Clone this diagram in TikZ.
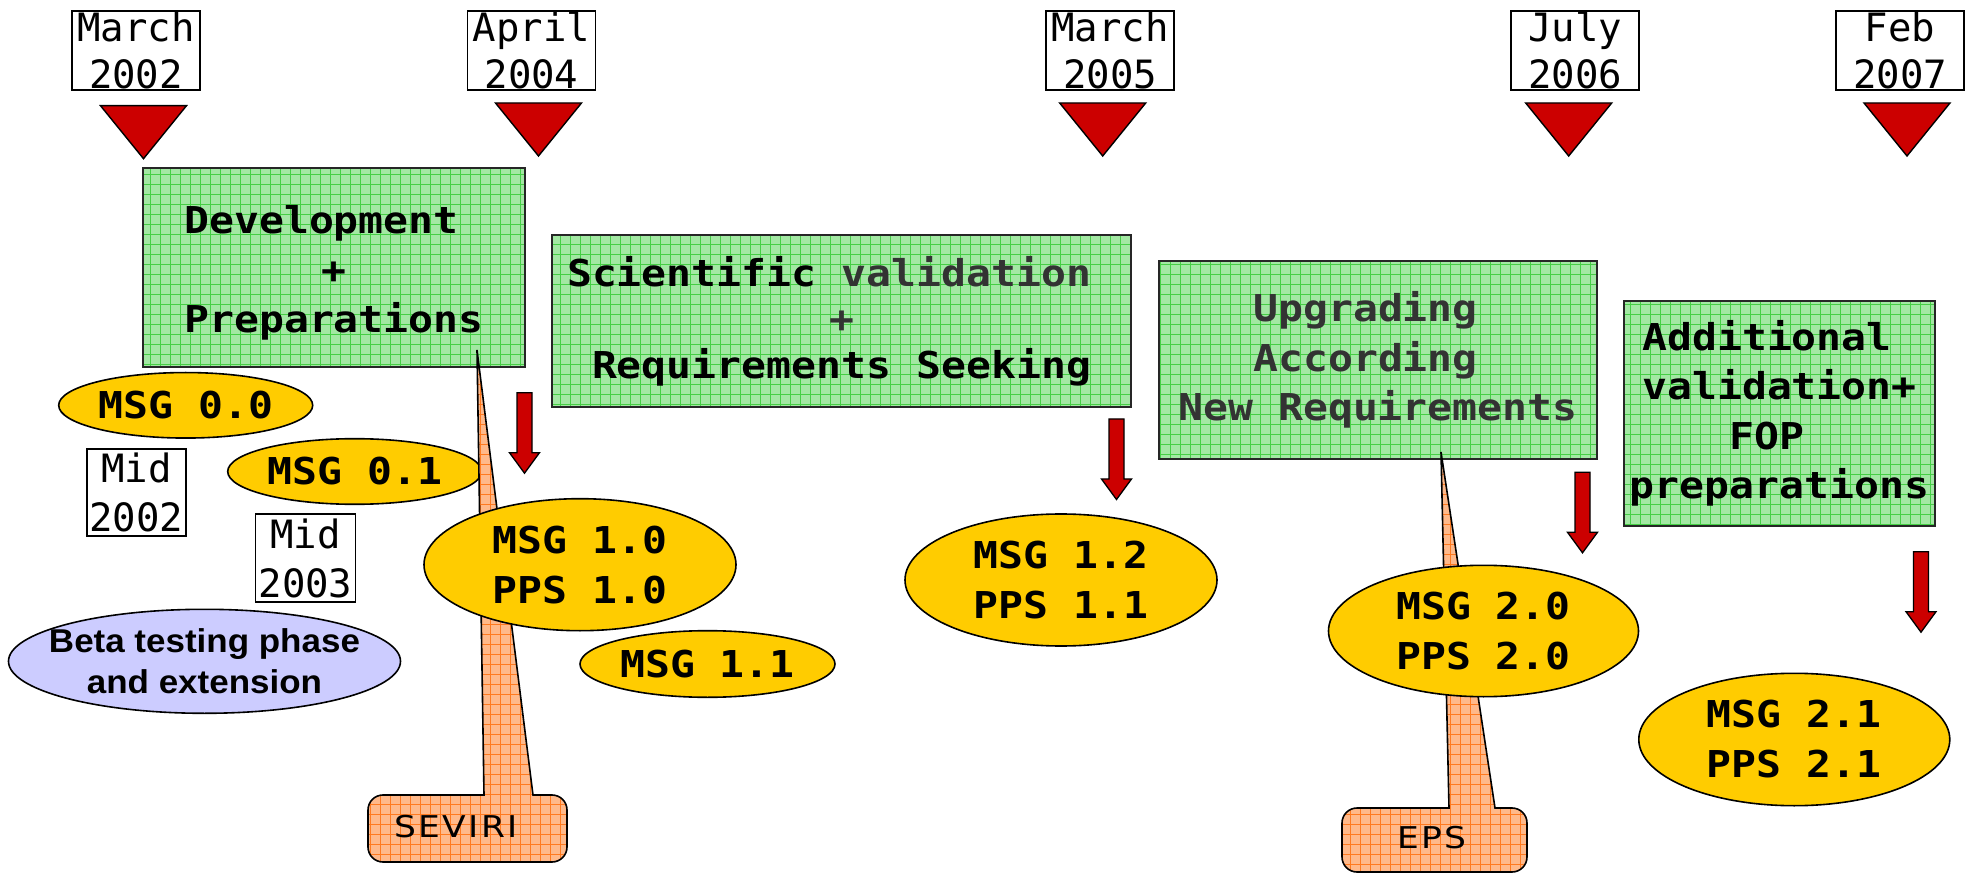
\documentclass[tikz,border=0pt]{standalone}
\usepackage{fontspec}
\usetikzlibrary{shapes.geometric, patterns.meta}
\newfontfamily\monofont{DejaVu Sans Mono}
\newfontfamily\bodyfont[FakeStretch=1.12]{DejaVu Sans Mono}
\newfontfamily\betafont[FakeStretch=1.06]{Liberation Sans}
\newfontfamily\handfont[LetterSpace=8, FakeStretch=1.15]{DejaVu Sans}
\definecolor{boxgreen}{HTML}{A3E8A3}
\definecolor{gridgreen}{HTML}{45CF45}
\definecolor{calloutfill}{HTML}{FFB98A}
\definecolor{gridorange}{HTML}{FF7A1F}
\definecolor{versiongold}{HTML}{FFCC00}
\definecolor{betablue}{HTML}{CCCCFF}
\definecolor{markred}{HTML}{CC0000}
\definecolor{textgray}{HTML}{333333}
\newcommand{\tsp}{\hphantom{x}}

\begin{document}
\begin{tikzpicture}[x=1pt, y=1pt,
  datebox/.style={draw, line width=1.5pt, fill=white, inner sep=0pt, align=center,
    font=\monofont\fontsize{39}{47}\selectfont},
  middate/.style={datebox, font=\monofont\fontsize{39}{49}\selectfont},
  phasebox/.style={draw=black!85, line width=2pt, inner sep=0pt, align=center,
    preaction={fill=boxgreen}, pattern={Hatch[angle=0, distance=10pt, line width=0.55pt]},
    pattern color=gridgreen, font=\bodyfont\bfseries\fontsize{37}{49.5}\selectfont},
  version/.style={ellipse, draw, line width=1.6pt, fill=versiongold, inner sep=0pt,
    align=center, font=\bodyfont\bfseries\fontsize{37}{50}\selectfont},
  callout/.style={draw, line width=1.6pt, preaction={fill=calloutfill},
    pattern={Hatch[angle=0, distance=10pt, line width=0.55pt]}, pattern color=gridorange},
  handlabel/.style={inner sep=0pt, font=\handfont\fontsize{30}{32}\selectfont},
  pics/marker/.style={code={
    \draw[fill=markred, line width=1.4pt] (-43,0) -- (43,0) -- (0,-53) -- cycle;}},
  pics/downarrow/.style={code={
    \draw[fill=markred, line width=1.3pt] (-7.5,0) -- (7.5,0) -- (7.5,-60) -- (15,-60)
      -- (0,-80.5) -- (-15,-60) -- (-7.5,-60) -- cycle;}}
]
\useasboundingbox (0,0) rectangle (1966,-874);

% Zeitachse: Daten + Dreiecke
\node[datebox, minimum width=128, minimum height=79] (d2002) at (136,-50.5) {March\\2002};
\node[datebox, minimum width=128, minimum height=79] (d2004) at (531.5,-50.5) {April\\2004};
\node[datebox, minimum width=128, minimum height=79] (d2005) at (1110,-50.5) {March\\2005};
\node[datebox, minimum width=128, minimum height=79] (d2006) at (1575,-50.5) {July\\2006};
\node[datebox, minimum width=128, minimum height=79] (d2007) at (1900,-50.5) {Feb\\2007};
\pic at (143.5,-105.7) {marker};
\pic at (538.5,-103) {marker};
\pic at (1102.7,-103) {marker};
\pic at (1568.7,-103) {marker};
\pic at (1907,-103) {marker};

% Phasen
\node[phasebox, minimum width=382, minimum height=199] (dev) at (334,-267.5)
  {\rule{0pt}{39pt}Development\tsp\\+\\Preparations};
\node[phasebox, minimum width=579, minimum height=172,
  font=\bodyfont\bfseries\fontsize{37}{46}\selectfont] (sci) at (841.5,-321)
  {Scientific {\color{textgray}validation}\tsp\\{\color{textgray}+}\\Requirements Seeking};
\node[phasebox, text=textgray, minimum width=438, minimum height=198] (upg) at (1378,-360)
  {Upgrading\tsp\\According\tsp\\New Requirements};
\node[phasebox, minimum width=311, minimum height=225] (add) at (1779.5,-413.5)
  {Additional\tsp\\validation+\\FOP\tsp\\preparations};

% Fruehe Versionen
\node[version, minimum width=254, minimum height=65.5] (v00) at (185.7,-405.3) {MSG 0.0};
\node[middate, minimum width=99, minimum height=87] (mid02) at (136.3,-492.3) {Mid\\2002};
\node[version, minimum width=254, minimum height=65.6] (v01) at (354.7,-471.5) {MSG 0.1};
\node[middate, minimum width=100, minimum height=88] (mid03) at (305.5,-558) {Mid\\2003};
\node[ellipse, draw, line width=1.6pt, fill=betablue, inner sep=0pt,
  minimum width=392, minimum height=104,
  label={[align=center, font=\betafont\bfseries\fontsize{33}{41}\selectfont]center:Beta testing phase\\and extension}]
  (beta) at (204.5,-661.3) {};

% SEVIRI
\draw[callout] (484,-795) -- (477,-350) -- (533,-795) -- (552,-795)
  arc[start angle=90, end angle=0, radius=15] -- (567,-847)
  arc[start angle=0, end angle=-90, radius=15] -- (383,-862)
  arc[start angle=270, end angle=180, radius=15] -- (368,-810)
  arc[start angle=180, end angle=90, radius=15] -- cycle;
\node[handlabel] (seviri) at (456,-827) {SEVIRI};

% EPS
\draw[callout] (1449,-808) -- (1441,-452) -- (1495,-808) -- (1512,-808)
  arc[start angle=90, end angle=0, radius=15] -- (1527,-857)
  arc[start angle=0, end angle=-90, radius=15] -- (1357,-872)
  arc[start angle=270, end angle=180, radius=15] -- (1342,-823)
  arc[start angle=180, end angle=90, radius=15] -- cycle;
\node[handlabel] (eps) at (1432,-838) {EPS};

% Versionen
\node[version, minimum width=312, minimum height=132] (v10) at (580,-564.7) {MSG 1.0\\PPS 1.0};
\node[version, minimum width=255, minimum height=66.6] (v11) at (707.5,-664) {MSG 1.1};
\node[version, minimum width=312, minimum height=132] (v12) at (1061,-580) {MSG 1.2\\PPS 1.1};
\node[version, minimum width=310, minimum height=131.4] (v20) at (1483.5,-631) {MSG 2.0\\PPS 2.0};
\node[version, minimum width=311, minimum height=132.4] (v21) at (1794.3,-739.5) {MSG 2.1\\PPS 2.1};

% Pfeile
\pic at (524.5,-392.7) {downarrow};
\pic at (1116.5,-419) {downarrow};
\pic at (1582.5,-472.3) {downarrow};
\pic at (1921,-551.7) {downarrow};
\end{tikzpicture}
\end{document}
